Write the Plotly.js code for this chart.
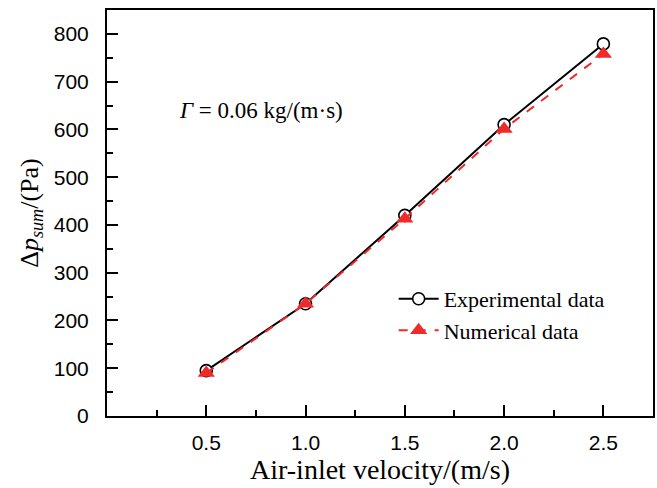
<!DOCTYPE html>
<html>
<head>
<meta charset="utf-8">
<script src="https://cdn.plot.ly/plotly-3.0.1.min.js"></script>
<style>html,body{margin:0;padding:0;background:#fff;}#chart{width:657px;height:488px;}</style>
</head>
<body>
<div id="chart"></div>
<script>
const velocity = [0.5, 1.0, 1.5, 2.0, 2.5];
const experimental = [95, 235, 420, 610, 779];
const numerical = [90, 235, 413, 601, 758];
const seriesNames = ["Experimental data", "Numerical data"];
const xTickVals = [0.5, 1.0, 1.5, 2.0, 2.5];
const xTickText = ["0.5", "1.0", "1.5", "2.0", "2.5"];
const yTickVals = [0, 100, 200, 300, 400, 500, 600, 700, 800];

const traces = [
  {
    x: velocity, y: experimental, name: seriesNames[0], type: "scatter", mode: "lines+markers",
    line: {color: "#000000", width: 2},
    marker: {symbol: "circle", size: 12, color: "#ffffff", line: {color: "#000000", width: 1.6}}
  },
  {
    x: velocity, y: numerical, name: seriesNames[1], type: "scatter", mode: "lines+markers",
    line: {color: "#ee2a2a", width: 2, dash: "dash"},
    marker: {symbol: "triangle-up", size: 15, color: "#ee2a2a", line: {width: 0}}
  }
];

const tickFont = {family: "Liberation Sans, Arial, sans-serif", size: 21, color: "#000"};
const serif = "Liberation Serif, Times New Roman, serif";

const layout = {
  width: 657, height: 488,
  margin: {l: 107, r: 4, t: 10, b: 72},
  paper_bgcolor: "#fff", plot_bgcolor: "#fff",
  showlegend: true,
  legend: {
    x: 0.525, y: 0.34, xanchor: "left", yanchor: "top",
    font: {family: serif, size: 22, color: "#000"},
    bgcolor: "rgba(0,0,0,0)", tracegroupgap: 0, itemwidth: 40
  },
  xaxis: {
    range: [0, 2.75], tickvals: xTickVals, ticktext: xTickText,
    ticks: "inside", ticklen: 11, tickwidth: 2, tickcolor: "#000",
    minor: {dtick: 0.25, tick0: 0.25, ticks: "inside", ticklen: 6, tickwidth: 2, tickcolor: "#000"},
    showline: true, linewidth: 2, linecolor: "#000", mirror: true,
    showgrid: false, zeroline: false, tickfont: tickFont,
    ticklabelstandoff: 7,
    title: {text: "Air-inlet velocity/(m/s)", font: {family: serif, size: 28, color: "#000"}, standoff: 6}
  },
  yaxis: {
    range: [0, 850], tickvals: yTickVals,
    ticks: "inside", ticklen: 11, tickwidth: 2, tickcolor: "#000",
    minor: {dtick: 50, tick0: 50, ticks: "inside", ticklen: 6, tickwidth: 2, tickcolor: "#000"},
    showline: true, linewidth: 2, linecolor: "#000", mirror: true,
    showgrid: false, zeroline: false, tickfont: tickFont,
    ticklabelstandoff: 12,
    title: {text: "Δ<i>p</i><sub><i>sum</i></sub>/(Pa)", font: {family: serif, size: 26, color: "#000"}, standoff: 8}
  },
  annotations: [{
    x: 0.355, y: 640, xref: "x", yref: "y", xanchor: "left", yanchor: "middle",
    text: "<i>Γ</i> = 0.06 kg/(m·s)", showarrow: false,
    font: {family: serif, size: 23, color: "#000"}
  }]
};

Plotly.newPlot("chart", traces, layout, {displayModeBar: false, staticPlot: true});
</script>
</body>
</html>
